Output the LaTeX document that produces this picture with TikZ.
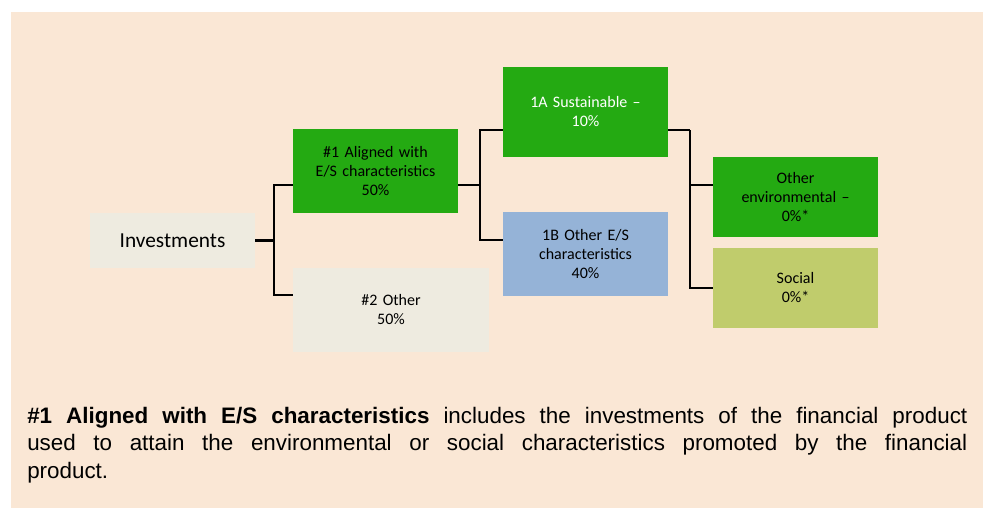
\documentclass[tikz,border=0pt]{standalone}
\usepackage{fontspec}
\setmainfont{Carlito}
\newfontfamily\notefont{Liberation Sans}
\definecolor{panelbg}{RGB}{250,231,213}
\definecolor{palebox}{RGB}{238,235,224}
\definecolor{esgreen}{RGB}{36,170,18}
\definecolor{esblue}{RGB}{149,179,215}
\definecolor{esolive}{RGB}{192,204,108}
\begin{document}
\begin{tikzpicture}[x=0.75pt,y=-0.75pt]
	\tikzstyle{box} = [rectangle, inner sep=0pt, text width=112pt, align=center, minimum width=123.75pt, font=\fontsize{12}{14.25}\selectfont]
	\tikzstyle{link} = [line width=1.9pt, black]
	\useasboundingbox (0,0) rectangle (988,510);
	\fill [panelbg] (11,12) rectangle (983,508);
	% tree boxes
	\node [box, fill=palebox, minimum height=41.25pt, font=\fontsize{16}{19}\selectfont] (inv) at (172.5,240.5) {Investments};
	\node [box, fill=esgreen, minimum height=63pt] (a1) at (375.5,171) {\#1 Aligned with\\E/S characteristics\\50\%};
	\node [box, fill=palebox, text width=140pt, minimum width=147pt, minimum height=63pt] (o2) at (391,310) {\#2 Other\\50\%};
	\node [box, fill=esgreen, text=white, minimum height=67.5pt] (s1a) at (585.5,112) {1A Sustainable --\\10\%};
	\node [box, fill=esblue, minimum height=63pt] (s1b) at (585.5,254) {1B Other E/S\\characteristics\\40\%};
	\node [box, fill=esgreen, minimum height=60pt] (oenv) at (795.5,197) {Other\\environmental --\\0\%*};
	\node [box, fill=esolive, minimum height=60pt] (soc) at (795.5,288) {Social\\0\%*};
	% connectors
	\coordinate (j1) at (274,240.5);
	\coordinate (j2) at (480,185);
	\coordinate (j3) at (690,130);
	\draw [link] (inv.east) -- (j1);
	\draw [link] (j1) |- ([yshift=-10.5pt]a1.west);
	\draw [link] (j1) |- ([yshift=11.25pt]o2.west);
	\draw [link] ([yshift=-10.5pt]a1.east) -- (j2);
	\draw [link] (j2) |- ([yshift=-13.5pt]s1a.west);
	\draw [link] (j2) |- ([yshift=10.5pt]s1b.west);
	\draw [link] ([yshift=-13.5pt]s1a.east) -- (j3);
	\draw [link] (j3) |- ([yshift=9pt]oenv.west);
	\draw [link] (j3) |- (soc.west);
	% note below
	\node [anchor=north west, inner sep=0pt, text width=705pt, align=justify, font=\notefont\fontsize{16.8}{20.6}\selectfont] (note) at (27,407) {\hyphenpenalty=10000\textbf{\#1 Aligned with E/S characteristics} includes the investments of the financial product\linebreak used to attain the environmental or social characteristics promoted by the financial\linebreak product.};
\end{tikzpicture}
\end{document}
